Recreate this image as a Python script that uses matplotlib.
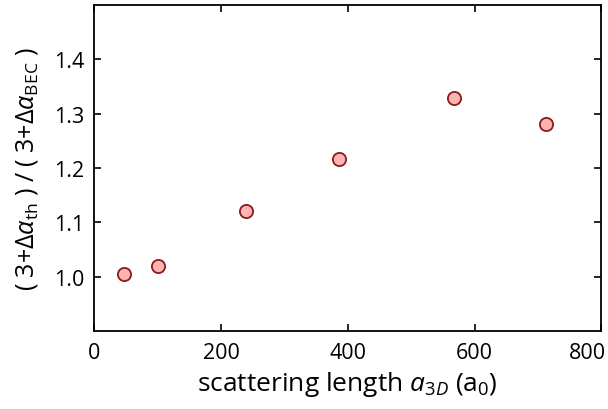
import matplotlib
matplotlib.use("Agg")
import matplotlib.pyplot as plt

plt.rcParams['font.family'] = ['Open Sans', 'DejaVu Sans']
plt.rcParams['mathtext.fontset'] = 'custom'
plt.rcParams['mathtext.rm'] = 'Open Sans'
plt.rcParams['mathtext.it'] = 'Open Sans:italic'
plt.rcParams['mathtext.bf'] = 'Open Sans:bold'

scattering_length = [47, 101, 239, 386, 567, 712]
ratio = [1.006, 1.020, 1.121, 1.216, 1.329, 1.282]

x_ticks = [0, 200, 400, 600, 800]
y_ticks = [1.0, 1.1, 1.2, 1.3, 1.4]

fig = plt.figure(figsize=(6.08, 4.10), dpi=100)
ax = fig.add_axes([0.155, 0.190, 0.834, 0.795])

ax.plot(scattering_length, ratio, 'o', ms=9.5, mfc='#ffb3b3', mec='#8b1a1a', mew=1.3)

ax.set_xlim(0, 800)
ax.set_ylim(0.9, 1.5)
ax.set_xticks(x_ticks)
labels = [str(v) for v in x_ticks]
ax.set_xticklabels(labels[:-1] + [""])
ax.set_yticks(y_ticks)
ax.set_yticklabels([f"{v:.1f}" for v in y_ticks])
ax.tick_params(direction='in', top=True, right=True, length=5, width=1.2,
               labelsize=15.5)
ax.tick_params(axis='x', pad=8)
ax.tick_params(axis='y', pad=7)
for s in ax.spines.values():
    s.set_linewidth(1.3)

# last x tick label, nudged left so it stays inside the figure
ax.annotate(labels[-1], xy=(x_ticks[-1], 0), xycoords=('data', 'axes fraction'),
            xytext=(-10, -8), textcoords='offset points', ha='center', va='top',
            fontsize=15.5)

ax.set_xlabel(r"scattering length $\mathit{a}_{\mathit{3D}}$ (a$_0$)", fontsize=19, labelpad=4)
ax.set_ylabel(r"( 3+$\Delta\alpha_{\rm th}$ ) / ( 3+$\Delta\alpha_{\rm BEC}$ )", fontsize=18, labelpad=10)

fig.savefig("out.png", dpi=100)
